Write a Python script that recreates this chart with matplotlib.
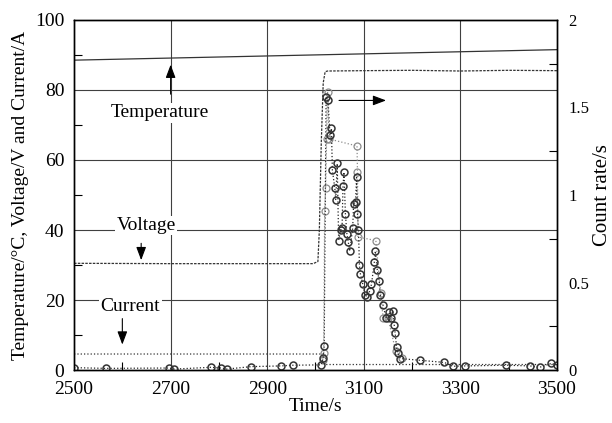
import matplotlib
matplotlib.use("Agg")
import matplotlib.pyplot as plt
from matplotlib.ticker import MultipleLocator

# --- data ---
temp_t = [2500, 3000, 3500]
temp_v = [88.5, 90.0, 91.5]

volt_t = [2500, 2700, 2900, 2995, 3005, 3008, 3012, 3016, 3020, 3025, 3100, 3200, 3300, 3400, 3500]
volt_v = [30.5, 30.4, 30.4, 30.4, 31.0, 40.0, 65.0, 82.0, 85.2, 85.4, 85.5, 85.6, 85.4, 85.6, 85.5]

curr_t = [2500, 3020, 3022, 3500]
curr_v = [4.6, 4.6, 1.6, 1.6]

# count rate (1/s), dark series
cnt_t = [2500, 2566, 2696, 2708, 2783, 2805, 2816, 2867, 2928, 2954, 3012, 3016, 3018,
         3022, 3026, 3030, 3033, 3035, 3040, 3042, 3045, 3048, 3052, 3055, 3057, 3059,
         3062, 3065, 3068, 3071, 3077, 3079, 3083, 3085, 3087, 3089, 3091, 3093, 3098,
         3102, 3107, 3112, 3116, 3122, 3124, 3128, 3132, 3134, 3140, 3146, 3152, 3156,
         3160, 3163, 3165, 3168, 3170, 3176, 3217, 3267, 3284, 3310, 3395, 3444, 3464,
         3488, 3500]
cnt_v = [0.014, 0.010, 0.012, 0.006, 0.016, 0.012, 0.006, 0.020, 0.024, 0.028, 0.030,
         0.070, 0.140, 1.56, 1.54, 1.34, 1.38, 1.14, 1.04, 0.97, 1.18, 0.74, 0.80, 0.81,
         1.05, 1.13, 0.89, 0.78, 0.73, 0.68, 0.81, 0.95, 0.96, 1.10, 0.89, 0.80, 0.60,
         0.55, 0.49, 0.43, 0.42, 0.45, 0.49, 0.62, 0.68, 0.57, 0.51, 0.43, 0.37, 0.30,
         0.33, 0.30, 0.34, 0.26, 0.21, 0.13, 0.10, 0.066, 0.056, 0.044, 0.022, 0.024,
         0.028, 0.024, 0.016, 0.038, 0.030]

# count rate (1/s), lighter series
cnt2_t = [3015, 3017, 3019, 3021, 3023, 3025, 3028, 3086, 3087, 3088, 3125, 3135, 3140,
          3150, 3166, 3180]
cnt2_v = [0.06, 0.10, 0.91, 1.04, 1.32, 1.59, 1.32, 1.28, 1.13, 0.76, 0.74, 0.44, 0.30,
          0.30, 0.11, 0.07]

FONT = "Liberation Serif"
plt.rcParams["font.family"] = FONT

fig = plt.figure(figsize=(6.12, 4.23), dpi=100)
ax = fig.add_axes([0.121, 0.125, 0.789, 0.828])
ax2 = ax.twinx()

ax.set_xlim(2500, 3500)
ax.set_ylim(0, 100)
ax2.set_ylim(0, 2)

ax.set_xticks([2500, 2700, 2900, 3100, 3300, 3500])
ax.xaxis.set_minor_locator(MultipleLocator(100))
ax.set_yticks([0, 20, 40, 60, 80, 100])
ax.yaxis.set_minor_locator(MultipleLocator(10))
ax2.set_yticks([0, 0.5, 1, 1.5, 2])
ax2.set_yticklabels(["0", "0.5", "1", "1.5", "2"])
ax2.yaxis.set_minor_locator(MultipleLocator(0.25))

for a in (ax, ax2):
    a.tick_params(which="both", direction="in", labelsize=14, width=0.8)
    a.tick_params(which="major", length=0)
    a.tick_params(which="minor", length=6)
    for s in a.spines.values():
        s.set_linewidth(1.0)
ax.tick_params(axis="y", pad=7)
ax.tick_params(axis="x", pad=8)
ax2.tick_params(axis="y", labelsize=12, pad=8)

for g in [2700, 2900, 3100, 3300]:
    ax.axvline(g, color="0.25", lw=0.8, zorder=0)
for g in [20, 40, 60, 80]:
    ax.axhline(g, color="0.25", lw=0.8, zorder=0)

ax.plot(temp_t, temp_v, color="0.2", lw=0.9)
ax.plot(volt_t, volt_v, color="0.2", lw=0.9, ls=(0, (2, 1)))
ax.plot(curr_t, curr_v, color="0.2", lw=0.9, ls=":")

ax2.plot(cnt2_t, cnt2_v, color="0.55", lw=0.9, ls=":", marker="o", ms=5,
         mfc="none", mec="0.55", mew=0.9)
ax2.plot(cnt_t, cnt_v, color="0.15", lw=0.9, ls=":", marker="o", ms=5,
         mfc="none", mec="0.2", mew=1.1)

box = dict(facecolor="white", edgecolor="none", pad=1)
ax.text(2678, 73.5, "Temperature", fontsize=14, ha="center", va="center", bbox=box)
ax.text(2650, 41.3, "Voltage", fontsize=14, ha="center", va="center", bbox=box)
ax.text(2617, 18.1, "Current", fontsize=14, ha="center", va="center", bbox=box)

arrow = dict(arrowstyle="-|>,head_length=0.8,head_width=0.3", color="black", lw=0.8)
ax.annotate("", xy=(2700, 88), xytext=(2700, 78), arrowprops=arrow)
ax.annotate("", xy=(2639, 30.6), xytext=(2639, 37), arrowprops=arrow)
ax.annotate("", xy=(2600, 6.5), xytext=(2600, 15.5), arrowprops=arrow)
ax.annotate("", xy=(3152, 77), xytext=(3043, 77), arrowprops=arrow)

ax.set_xlabel("Time/s", fontsize=14, labelpad=0)
ax.set_ylabel("Temperature/\u00b0C, Voltage/V and Current/A", fontsize=14, labelpad=4)
ax2.set_ylabel("Count rate/s", fontsize=15, labelpad=3)

fig.savefig("out.png", dpi=100)
